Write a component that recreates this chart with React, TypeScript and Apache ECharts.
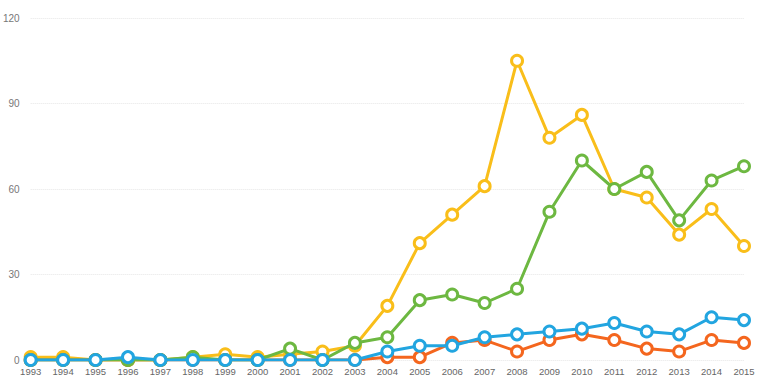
import React, { useEffect, useRef } from "react";
import * as echarts from "echarts";

const years = ["1993","1994","1995","1996","1997","1998","1999","2000","2001","2002","2003","2004","2005","2006","2007","2008","2009","2010","2011","2012","2013","2014","2015"];
const yellowValues = [1,1,0,0,0,1,2,1,2,3,5,19,41,51,61,105,78,86,60,57,44,53,40];
const greenValues = [0,0,0,0,0,1,0,0,4,0,6,8,21,23,20,25,52,70,60,66,49,63,68];
const orangeValues = [0,0,0,0,0,0,0,0,0,0,0,1,1,6,7,3,7,9,7,4,3,7,6];
const blueValues = [0,0,0,1,0,0,0,0,0,0,0,3,5,5,8,9,10,11,13,10,9,15,14];

const mk = (name: string, data: number[], color: string, z: number) => ({
  name,
  type: "line",
  data,
  z,
  symbol: "circle",
  symbolSize: 11,
  showAllSymbol: true,
  lineStyle: { color, width: 3 },
  itemStyle: { color: "#ffffff", borderColor: color, borderWidth: 3 },
});

export default function App() {
  const ref = useRef<HTMLDivElement>(null);
  useEffect(() => {
    const chart = echarts.init(ref.current!, null, { renderer: "svg" });
    chart.setOption({
      animation: false,
      backgroundColor: "#ffffff",
      grid: { left: 29, right: 32, top: 18, bottom: 32 },
      xAxis: {
        type: "category",
        data: years,
        boundaryGap: false,
        axisLine: { show: false },
        axisTick: { show: false },
        axisLabel: { color: "#666", fontSize: 9.5, margin: 6, fontFamily: "Liberation Sans", interval: 0 },
      },
      yAxis: {
        type: "value",
        min: 0,
        max: 120,
        interval: 30,
        axisLine: { show: false },
        axisTick: { show: false },
        axisLabel: { color: "#777", fontSize: 10, margin: 11, fontFamily: "Liberation Sans" },
        splitLine: { lineStyle: { color: "#e6e6e6", type: "dotted", width: 1 } },
      },
      series: [
        mk("Yellow", yellowValues, "#F9BE1A", 2),
        mk("Orange", orangeValues, "#F4661E", 3),
        mk("Green", greenValues, "#6DB841", 4),
        mk("Blue", blueValues, "#22A5E0", 5),
      ],
    });
    return () => chart.dispose();
  }, []);
  return <div ref={ref} style={{ position: "absolute", left: 0, top: 0, width: 776, height: 392 }} />;
}
